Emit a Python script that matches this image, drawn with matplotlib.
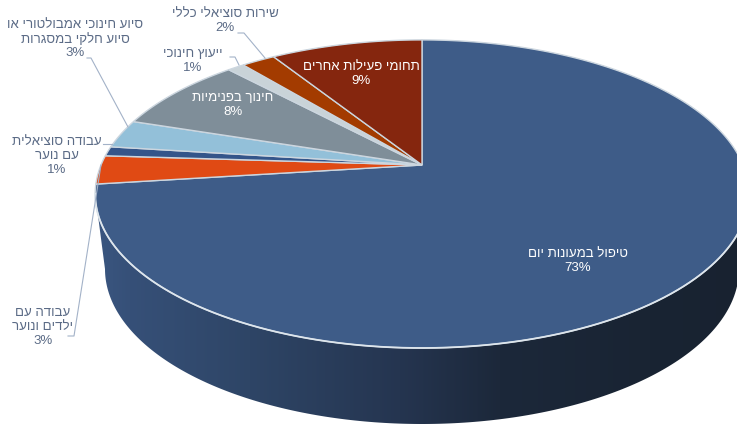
import numpy as np
from matplotlib import pyplot as plt
from matplotlib.patches import Polygon

plt.rcParams['font.family'] = ['Liberation Sans', 'DejaVu Sans']

# clockwise from twelve o'clock
categories = [
    'טיפול במעונות יום',
    'עבודה עם\nילדים ונוער',
    'עבודה סוציאלית\nעם נוער',
    'סיוע חינוכי אמבולטורי או\nסיוע חלקי במסגרות',
    'חינוך בפנימיות',
    'ייעוץ חינוכי',
    'שירות סוציאלי כללי',
    'תחומי פעילות אחרים',
]
values = [73, 3, 1, 3, 8, 1, 2, 9]
colors = ['#3e5c88', '#e04a14', '#34558a', '#93c0d9', '#7f8e99', '#c9d3d8', '#a33b00', '#85260e']
text_colors = ['white', '#5b6b86', '#5b6b86', '#5b6b86', 'white', '#5b6b86', '#5b6b86', 'white']
label_pos = [(578, 261), (43, 327), (57, 156), (75, 39), (233, 105), (193, 61), (225, 21), (361, 74)]

# pie apex in pixels and the perspective of the tilted disc
cx, cy = 422, 165
A, B, k = 321, 148.6, 0.188
edge = '#ccd6df'
leader = '#a3b2c8'


def project(frac):
    # fraction of the circle -> pixel position on the tilted disc
    t = 2 * np.pi * np.asarray(frac)
    x, y = np.sin(t), np.cos(t)
    d = 1 + k * y
    return cx + A * x / d, cy - B * y / d


def rtl(s):
    # matplotlib has no bidi layout, so lay Hebrew out in visual order
    return '\n'.join(line[::-1] if line[0] > '\u0400' else line for line in s.split('\n'))


fig = plt.figure(figsize=(7.37, 4.25), dpi=100)
ax = fig.add_axes([0, 0, 1, 1])

# side wall: horizontal gradient clipped between the rim and a lower ellipse
front = np.linspace(0.28, 0.72, 200)
rim_x, rim_y = project(front)
t = np.linspace(0, np.pi, 200)
low_x = 422 + 317 * np.cos(t)
low_y = 269 + 155 * np.sin(t)
side_pts = np.r_[np.c_[rim_x[::-1], rim_y[::-1]], np.c_[low_x, low_y]]
wall = Polygon(side_pts, closed=True, facecolor='none', edgecolor='none')
ax.add_patch(wall)
stops_x = [95, 130, 250, 400, 500, 650, 749]
stops_r = [0x3a, 0x36, 0x2e, 0x25, 0x1c, 0x19, 0x18]
stops_g = [0x56, 0x50, 0x45, 0x35, 0x28, 0x24, 0x22]
stops_b = [0x80, 0x78, 0x66, 0x50, 0x3a, 0x33, 0x30]
xs = np.arange(95, 750)
grad = np.stack([np.interp(xs, stops_x, s) for s in (stops_r, stops_g, stops_b)], axis=-1)[None, :, :] / 255
im = ax.imshow(grad, extent=(95, 750, 430, 150), aspect='auto', zorder=1)
im.set_clip_path(wall)
ax.set_xlim(0, 737)
ax.set_ylim(425, 0)
ax.axis('off')

# top face
cum = np.r_[0, np.cumsum(values)] / sum(values)
for i, c in enumerate(colors):
    n = max(int(values[i] * 6), 8)
    fx, fy = project(np.linspace(cum[i], cum[i + 1], n))
    pts = np.r_[[[cx, cy]], np.c_[fx, fy]]
    ax.add_patch(Polygon(pts, closed=True, facecolor=c, edgecolor=edge, lw=1.0, joinstyle='miter', zorder=2))

# bright rim along the front edge
ax.plot(rim_x, rim_y, color='#dde5ec', lw=1.3, zorder=3)

# leader lines
leaders = [
    ([87, 91, 128], [58, 58, 127]),
    ([230, 235, 239], [57, 57, 65]),
    ([238, 244, 265], [33, 33, 58]),
    ([103, 112], [144, 144]),
    ([68, 74, 101], [336, 336, 165]),
]
for lx, ly in leaders:
    ax.plot(lx, ly, color=leader, lw=0.8, zorder=4)

for cat, val, col, (px, py) in zip(categories, values, text_colors, label_pos):
    ax.text(px, py, rtl(cat + '\n' + str(val) + '%'), color=col, fontsize=9.5, ha='center', va='center',
            linespacing=1.2, zorder=5)

fig.savefig('out.png', dpi=100)
